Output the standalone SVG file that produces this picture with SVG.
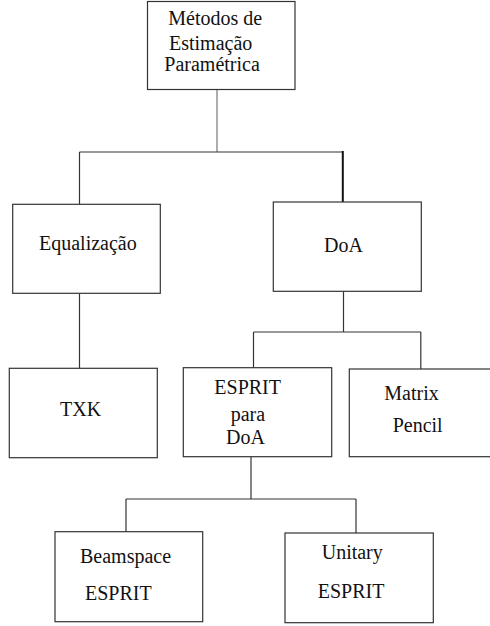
<svg xmlns="http://www.w3.org/2000/svg" width="490" height="626" viewBox="0 0 490 626">
<style>
.box{fill:#fff;stroke:#333;stroke-width:1.2}
.t{font-size:20px;fill:#111}
.c{fill:none;stroke:#333;stroke-width:1.2}
</style>
<rect width="490" height="626" fill="#fff"/>
<g id="connectors">
<path class="c" d="M217,89.5V152" style="stroke:#777"/>
<path class="c" d="M79.5,152H343"/>
<path class="c" d="M79.5,152V204.5"/>
<path class="c" d="M342.8,151V202" style="stroke:#111;stroke-width:2"/>
<path class="c" d="M79.5,293.5V368.5"/>
<path class="c" d="M343.5,291.5V332"/>
<path class="c" d="M253.5,332H421"/>
<path class="c" d="M253.5,332V368"/>
<path class="c" d="M420.8,332V369"/>
<path class="c" d="M251,457V499"/>
<path class="c" d="M126,499H356"/>
<path class="c" d="M126,499V532"/>
<path class="c" d="M356,499V533"/>
</g>
<g font-family="Liberation Serif, DejaVu Serif, serif">
<g id="n_metodos">
<rect class="box" x="147.5" y="1.5" width="147.5" height="88"/>
<text class="t" x="168.3" y="25">Métodos de</text>
<text class="t" x="169" y="49.5">Estimação</text>
<text class="t" x="164.3" y="70.5">Paramétrica</text>
</g>
<g id="n_equalizacao">
<rect class="box" x="12.7" y="204.3" width="147.6" height="89"/>
<text class="t" x="39" y="250">Equalização</text>
</g>
<g id="n_doa">
<rect class="box" x="273.3" y="202" width="148" height="89.3"/>
<text class="t" x="324" y="252">DoA</text>
</g>
<g id="n_txk">
<rect class="box" x="9.3" y="368.3" width="148" height="89.4"/>
<text class="t" x="60" y="416">TXK</text>
</g>
<g id="n_esprit_doa">
<rect class="box" x="183.3" y="367.7" width="148.4" height="89"/>
<text class="t" x="214.3" y="394">ESPRIT</text>
<text class="t" x="230.7" y="421">para</text>
<text class="t" x="226" y="444">DoA</text>
</g>
<g id="n_matrix">
<rect class="box" x="349.3" y="369" width="146" height="87.7"/>
<text class="t" x="384.3" y="400">Matrix</text>
<text class="t" x="392.7" y="431.5">Pencil</text>
</g>
<g id="n_beamspace">
<rect class="box" x="55" y="531.7" width="147.7" height="90"/>
<text class="t" x="80" y="563">Beamspace</text>
<text class="t" x="85" y="600">ESPRIT</text>
</g>
<g id="n_unitary">
<rect class="box" x="285" y="533" width="148.3" height="89.7"/>
<text class="t" x="321.7" y="559">Unitary</text>
<text class="t" x="317.7" y="597.5">ESPRIT</text>
</g>
</g>
</svg>
